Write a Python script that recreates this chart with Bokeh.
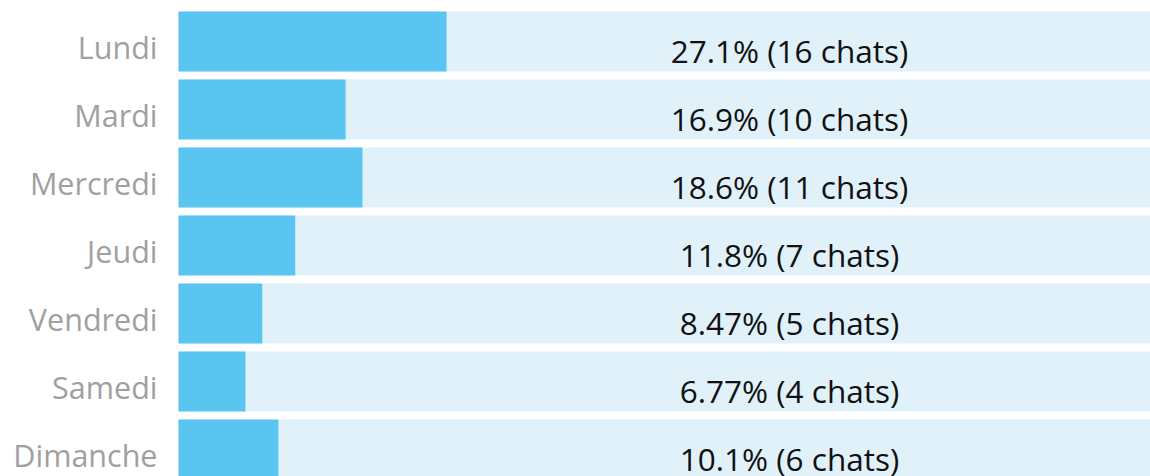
from bokeh.plotting import figure
from bokeh.models import ColumnDataSource, Range1d
from bokeh.core.properties import value
from bokeh.embed import file_html
from bokeh.resources import INLINE

days = ["Lundi", "Mardi", "Mercredi", "Jeudi", "Vendredi", "Samedi", "Dimanche"]
percents = [27.1, 16.9, 18.6, 11.8, 8.47, 6.77, 10.1]
counts = [16, 10, 11, 7, 5, 4, 6]

ypos = [-i for i in range(len(days))]
labels = ["%s%% (%d chats)" % (("%g" % p), c) for p, c in zip(percents, counts)]

src = ColumnDataSource(dict(
    y=ypos, day=days, pct=percents, cnt=counts, label=labels,
    full=[100] * len(days),
))

PX_PER_UNIT = 9.89  # px per percent
LEFT_PX = 178
W, H = 1150, 476

p = figure(width=W, height=H, output_backend="svg", toolbar_location=None,
           x_range=Range1d(-LEFT_PX / PX_PER_UNIT, (W - LEFT_PX) / PX_PER_UNIT),
           y_range=Range1d(-6 - 27 / 68, 41 / 68),
           min_border=0, min_border_left=0, min_border_right=0,
           min_border_top=0, min_border_bottom=0)
p.axis.visible = False
p.grid.visible = False
p.outline_line_color = None
p.background_fill_color = "white"
p.border_fill_color = "white"

BAR_H = 60 / 68
p.hbar(y="y", left=0, right="full", height=BAR_H, source=src,
       fill_color="#E0F1F9", line_color=None)
p.hbar(y="y", left=0, right="pct", height=BAR_H, source=src,
       fill_color="#5BC5F2", line_color=None)

p.text(x=(789 - LEFT_PX) / PX_PER_UNIT, y="y", text="label", source=src,
       text_align="center", text_baseline="alphabetic", y_offset=9,
       text_font=value("Open Sans"), text_font_size="31.5px", text_color="#111111")

p.text(x=-21 / PX_PER_UNIT, y="y", text="day", source=src,
       text_align="right", text_baseline="alphabetic", y_offset=5,
       text_font=value("Open Sans"), text_font_size="30.5px", text_color="#A0A0A0")

open("out.html", "w").write(file_html(p, INLINE))
